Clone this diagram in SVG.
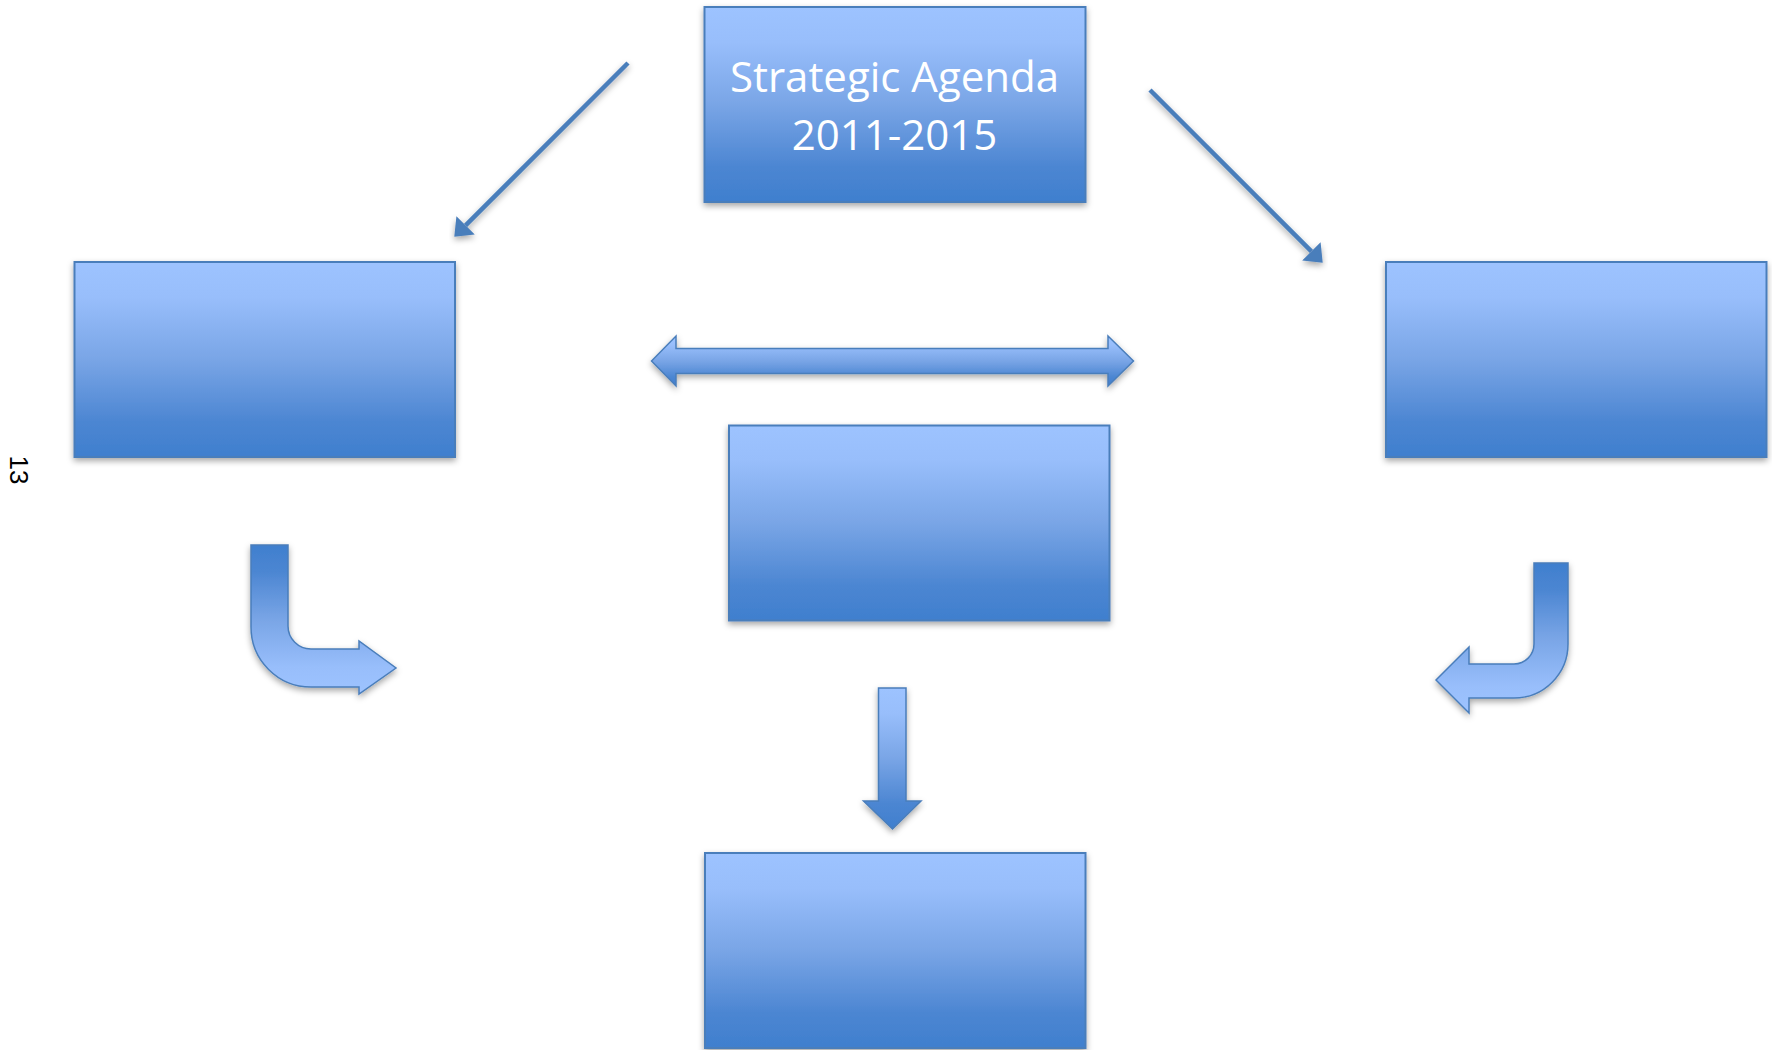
<svg xmlns="http://www.w3.org/2000/svg" width="1772" height="1050" viewBox="0 0 1772 1050">
  <defs>
    <!-- light at top, darker toward bottom -->
    <linearGradient id="fillDown" x1="0" y1="0" x2="0" y2="1">
      <stop offset="0" stop-color="#9DC3FF"/>
      <stop offset="0.18" stop-color="#98BEFB"/>
      <stop offset="0.5" stop-color="#79A5E6"/>
      <stop offset="0.82" stop-color="#4C86D2"/>
      <stop offset="1" stop-color="#3F7FCE"/>
    </linearGradient>
    <!-- dark at top, light toward bottom (bent arrows) -->
    <linearGradient id="fillUp" x1="0" y1="0" x2="0" y2="1">
      <stop offset="0" stop-color="#3F7FCE"/>
      <stop offset="0.18" stop-color="#4C86D2"/>
      <stop offset="0.5" stop-color="#79A5E6"/>
      <stop offset="0.82" stop-color="#98BEFB"/>
      <stop offset="1" stop-color="#9DC3FF"/>
    </linearGradient>
    <filter id="shadow" x="-10%" y="-10%" width="120%" height="130%">
      <feDropShadow dx="0" dy="3" stdDeviation="3" flood-color="#000" flood-opacity="0.35"/>
    </filter>
    <marker id="head" markerUnits="userSpaceOnUse" viewBox="0 0 16 26" refX="0" refY="13" markerWidth="16" markerHeight="26" orient="auto">
      <path d="M0,0 L16,13 L0,26 Z" fill="#4A7EBB"/>
    </marker>
  </defs>
  <style>
    .box { fill: url(#fillDown); stroke: #4A7EBB; stroke-width: 2; filter: url(#shadow); }
    .block { fill: url(#fillDown); stroke: #4A7EBB; stroke-width: 1.5; stroke-linejoin: miter; filter: url(#shadow); }
    .bent { fill: url(#fillUp); stroke: #4A7EBB; stroke-width: 1.5; filter: url(#shadow); }
    .thin { fill: none; stroke: #4A7EBB; stroke-width: 4.5; marker-end: url(#head); filter: url(#shadow); }
    .label { fill: #FFFFFF; font-family: "Open Sans", "Liberation Sans", sans-serif; font-size: 42px; text-anchor: middle; }
    .page { fill: #000000; font-family: "Liberation Sans", Arial, sans-serif; font-size: 26px; text-anchor: middle; }
  </style>

  <rect width="1772" height="1050" fill="#FFFFFF"/>

  <!-- page number, rotated -->
  <text class="page" transform="translate(10,470) rotate(90)" x="0" y="0">13</text>

  <g id="connectors">
    <path id="arrow-top-left" class="thin" d="M628,63 L465.6,225.4"/>
    <path id="arrow-top-right" class="thin" d="M1150,90 L1311.4,251.4"/>
    <path id="arrow-both" class="block" d="M651.5,361 L676,336 L676,348.5 L1108,348.5 L1108,336 L1133.5,361 L1108,386 L1108,373.5 L676,373.5 L676,386 Z"/>
    <path id="arrow-down" class="block" d="M878.5,688 L906,688 L906,801 L921,801 L892.5,829 L863.5,801 L878.5,801 Z"/>
    <path id="arrow-bend-left" class="bent" d="M251,545 L288,545 L288,626 A23,23 0 0 0 311,649 L359,649 L359,641 L396,668 L359,694 L359,687 L311,687 A60,60 0 0 1 251,627 Z"/>
    <path id="arrow-bend-right" class="bent" d="M1534,563 L1568,563 L1568,644 A54,54 0 0 1 1514,698 L1469,698 L1469,713 L1436,680 L1469,647 L1469,664 L1514,664 A20,20 0 0 0 1534,644 Z"/>
  </g>

  <g id="node-agenda">
    <rect class="box" x="704.5" y="7" width="381" height="195"/>
    <text class="label" x="894.5" y="92">Strategic Agenda</text>
    <text class="label" x="894.5" y="150">2011-2015</text>
  </g>
  <g id="node-left">
    <rect class="box" x="74.5" y="262" width="380.5" height="195"/>
  </g>
  <g id="node-right">
    <rect class="box" x="1386" y="262" width="380.5" height="195"/>
  </g>
  <g id="node-middle">
    <rect class="box" x="729" y="425.5" width="380.5" height="195"/>
  </g>
  <g id="node-bottom">
    <rect class="box" x="705" y="853" width="380.5" height="195"/>
  </g>
</svg>
